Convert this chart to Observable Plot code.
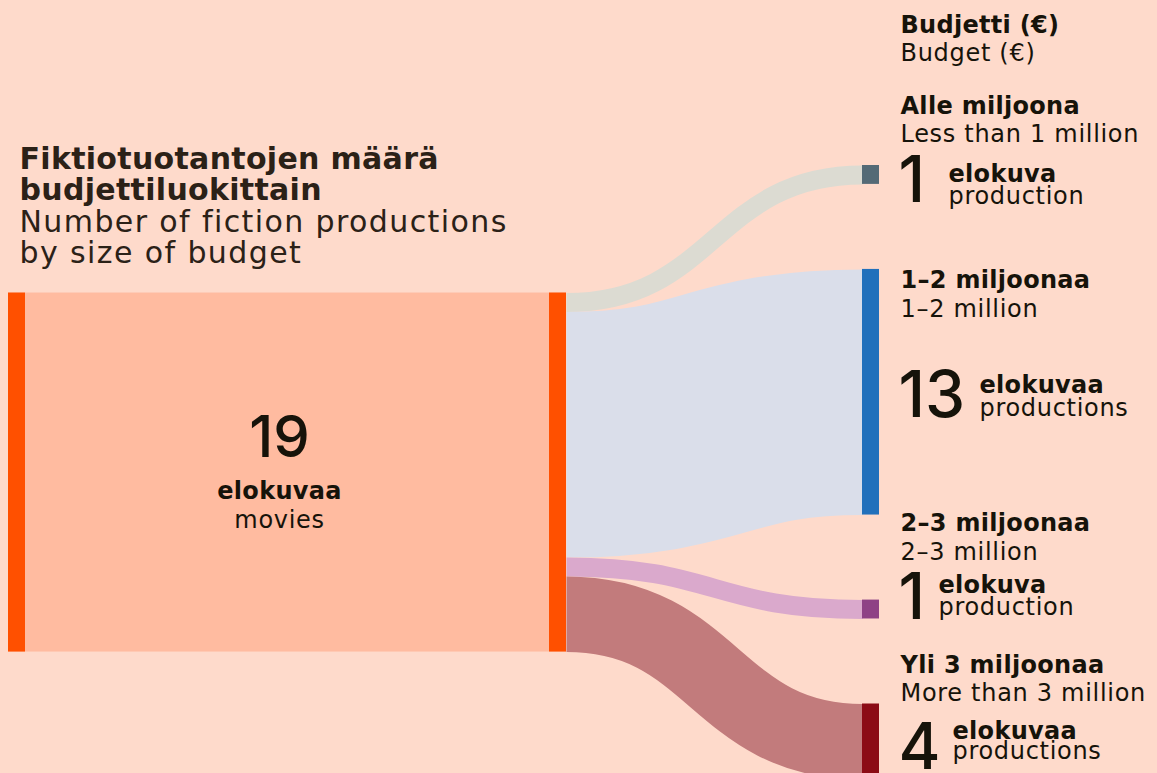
<!DOCTYPE html>
<html><head><meta charset="utf-8">
<script src="https://cdn.jsdelivr.net/npm/d3@7"></script>
<script src="https://cdn.jsdelivr.net/npm/@observablehq/plot@0.6"></script>
<style>
html,body{margin:0;padding:0;background:#FEDACB;overflow:hidden;}
#chart svg{display:block;background:#FEDACB;}
</style></head><body><div id="chart"></div>
<script>
// ---- data ----
const titleFi = ["Fiktiotuotantojen määrä", "budjettiluokittain"];
const titleEn = ["Number of fiction productions", "by size of budget"];
const headerFi = "Budjetti (€)";
const headerEn = "Budget (€)";
const sourceTotal = 19;
const sourceUnitFi = "elokuvaa";
const sourceUnitEn = "movies";
const categoriesFi = ["Alle miljoona", "1–2 miljoonaa", "2–3 miljoonaa", "Yli 3 miljoonaa"];
const categoriesEn = ["Less than 1 million", "1–2 million", "2–3 million", "More than 3 million"];
const counts = [1, 13, 1, 4];
const unitsFi = ["elokuva", "elokuvaa", "elokuva", "elokuvaa"];
const unitsEn = ["production", "productions", "production", "productions"];

// ---- styles / layout ----
const linkColors = ["#DCDBD2", "#DADEEA", "#DAA9CC", "#C27B7C"];
const nodeColors = ["#546A76", "#2170BB", "#8E4285", "#8C0C16"];
const W = 1157, H = 773;
const unitPx = 359 / 19;
const gap = 4.5;
const topPx = 165;
const srcX = [8, 566], barW = 17;
const tgtX = [862, 879];
const labelX = 900;
const ink = "#16130A", titleInk = "#2B2117";
const fontLabel = "DejaVu Sans";
const fontTitle = "DejaVu Sans";
const fontBig = "Inter";
const labelSize = 24;
// label offsets (px) relative to each target node top
const dyFi = [-52, 19, -69, -31.5];
const dyEn = [-24, 48, -40, -3.5];
const dyBig = [36, 148, 19, 65];
const dyUnitFi = [16, 124, -7, 34.5];
const dyUnitEn = [38, 147, 15, 54.5];
const unitXs = [948, 979, 938, 952];

// ---- layout computation ----
const tops = [];
{ let t = 0; counts.forEach((c, i) => { tops.push(t); t += c + gap; }); }
const extent = d3.sum(counts) + gap * (counts.length - 1);
const srcTop = (extent - sourceTotal) / 2;
const nodes = counts.map((c, i) => ({y1: tops[i], y2: tops[i] + c, fill: nodeColors[i]}));
let acc = srcTop;
const links = counts.map((c, i) => {
  const l = {x1: srcX[1], x2: tgtX[0], y1: acc + c / 2, y2: tops[i] + c / 2, w: c * unitPx, stroke: linkColors[i]};
  acc += c;
  return l;
});
const srcCx = (srcX[0] + srcX[1]) / 2 - 8;

const marks = [
  Plot.rect([{y1: srcTop, y2: srcTop + sourceTotal}], {x1: srcX[0], x2: srcX[1], y1: "y1", y2: "y2", fill: "#FFBBA0"}),
  Plot.rect([{y1: srcTop, y2: srcTop + sourceTotal}], {x1: srcX[0], x2: srcX[0] + barW, y1: "y1", y2: "y2", fill: "#FF5000"}),
  Plot.rect([{y1: srcTop, y2: srcTop + sourceTotal}], {x1: srcX[1] - barW, x2: srcX[1], y1: "y1", y2: "y2", fill: "#FF5000"}),
  Plot.link(links, {x1: "x1", y1: "y1", x2: "x2", y2: "y2", stroke: "stroke", strokeWidth: "w", curve: "bump-x", strokeOpacity: 1}),
  Plot.rect(nodes, {x1: tgtX[0], x2: tgtX[1], y1: "y1", y2: "y2", fill: "fill"}),
  // title
  Plot.text([titleFi.join("\n")], {ariaDescription: "t-bold", frameAnchor: "top-left", dx: 19, dy: 199, lineAnchor: "bottom", textAnchor: "start", lineHeight: 31 / 30, fontSize: 30, fontWeight: "bold", fontFamily: fontTitle, fill: titleInk}),
  Plot.text([titleEn.join("\n")], {ariaDescription: "t-reg", frameAnchor: "top-left", dx: 19, dy: 262, lineAnchor: "bottom", textAnchor: "start", lineHeight: 31 / 30, fontSize: 30, fontFamily: fontTitle, fill: titleInk}),
  // header
  Plot.text([headerFi], {ariaDescription: "l-bold", frameAnchor: "top-left", dx: labelX, dy: 32, lineAnchor: "bottom", textAnchor: "start", fontSize: labelSize, fontWeight: "bold", fontFamily: fontLabel, fill: ink}),
  Plot.text([headerEn], {ariaDescription: "l-reg", frameAnchor: "top-left", dx: labelX, dy: 60, lineAnchor: "bottom", textAnchor: "start", fontSize: labelSize, fontFamily: fontLabel, fill: ink}),
  // source labels
  Plot.text([String(sourceTotal)], {x: srcCx, y: srcTop + sourceTotal / 2, dy: -16, lineAnchor: "bottom", fontSize: 58, fontWeight: 500, fontFamily: fontBig, fill: ink}),
  Plot.text([sourceUnitFi], {ariaDescription: "l-bold", x: srcCx, y: srcTop + sourceTotal / 2, dy: 26, lineAnchor: "bottom", fontSize: labelSize, fontWeight: "bold", fontFamily: fontLabel, fill: ink}),
  Plot.text([sourceUnitEn], {ariaDescription: "l-reg", x: srcCx, y: srcTop + sourceTotal / 2, dy: 55, lineAnchor: "bottom", fontSize: labelSize, fontFamily: fontLabel, fill: ink})
];
counts.forEach((c, i) => {
  const base = {y: tops[i], lineAnchor: "bottom", textAnchor: "start", fontFamily: fontLabel, fill: ink};
  marks.push(
    Plot.text([categoriesFi[i]], {...base, ariaDescription: "l-bold", x: labelX, dy: dyFi[i], fontSize: labelSize, fontWeight: "bold"}),
    Plot.text([categoriesEn[i]], {...base, ariaDescription: "l-reg", x: labelX, dy: dyEn[i], fontSize: labelSize}),
    Plot.text([String(c)], {...base, x: labelX - 2, dy: dyBig[i], fontSize: 64, fontWeight: 500, fontFamily: fontBig}),
    Plot.text([unitsFi[i]], {...base, ariaDescription: "l-bold", x: unitXs[i], dy: dyUnitFi[i], fontSize: labelSize, fontWeight: "bold"}),
    Plot.text([unitsEn[i]], {...base, ariaDescription: "l-reg", x: unitXs[i], dy: dyUnitEn[i], fontSize: labelSize})
  );
});

const chart = Plot.plot({
  width: W, height: H,
  margin: 0,
  style: {background: "#FEDACB", overflow: "hidden"},
  x: {type: "linear", domain: [0, W], range: [0, W], axis: null},
  y: {type: "linear", domain: [0, extent], range: [topPx, topPx + extent * unitPx], axis: null},
  color: {type: "identity"},
  marks
});
const spacing = {"t-bold": "0.3px", "t-reg": "1.4px", "l-bold": "0.3px", "l-reg": "0.7px"};
for (const [k, v] of Object.entries(spacing)) {
  d3.select(chart).selectAll(`g[aria-description="${k}"]`).style("letter-spacing", v);
}
document.getElementById("chart").appendChild(chart);
</script>
</body></html>
